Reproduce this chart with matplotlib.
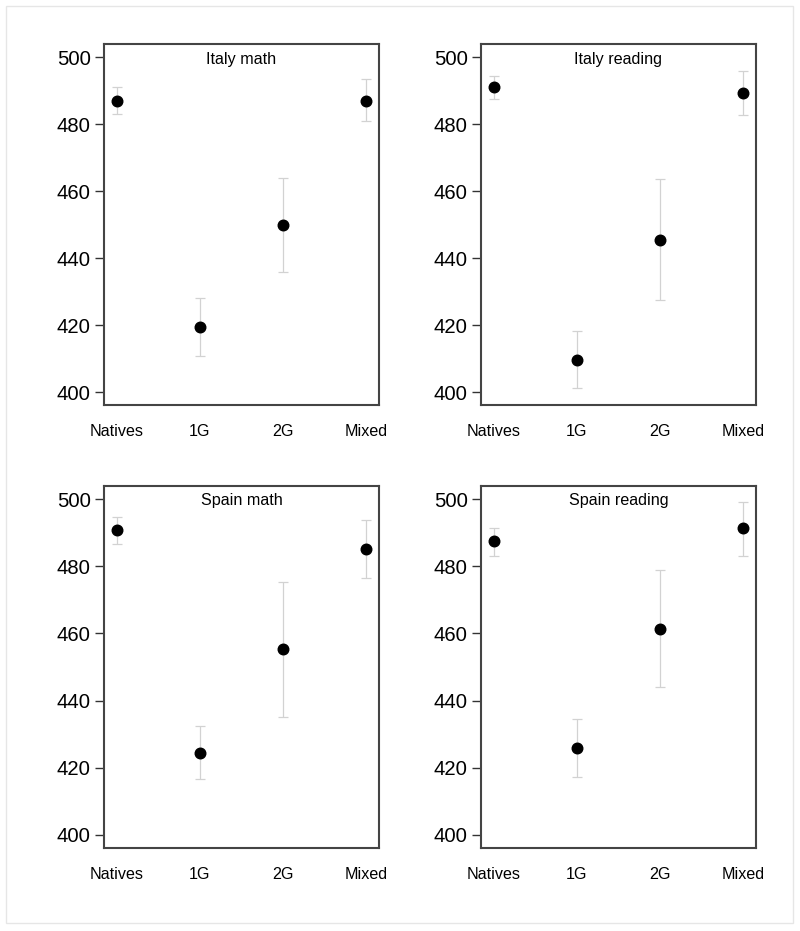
import matplotlib
matplotlib.use("Agg")
import matplotlib.pyplot as plt
from matplotlib.patches import Rectangle

plt.rcParams['font.family'] = ['Liberation Sans', 'DejaVu Sans']

categories = ["Natives", "1G", "2G", "Mixed"]
panel_titles = ["Italy math", "Italy reading", "Spain math", "Spain reading"]

italy_math = [486.9, 419.6, 449.9, 487.1]
italy_math_lo = [483.0, 410.8, 435.9, 481.0]
italy_math_hi = [491.1, 428.1, 463.9, 493.4]

italy_reading = [491.1, 409.6, 445.5, 489.4]
italy_reading_lo = [487.7, 401.3, 427.5, 482.8]
italy_reading_hi = [494.3, 418.2, 463.8, 496.0]

spain_math = [490.8, 424.5, 455.3, 485.1]
spain_math_lo = [486.5, 416.7, 435.2, 476.6]
spain_math_hi = [494.8, 432.5, 475.4, 493.7]

spain_reading = [487.4, 426.0, 461.2, 491.3]
spain_reading_lo = [483.1, 417.4, 444.0, 483.0]
spain_reading_hi = [491.5, 434.6, 478.8, 499.2]

yticks = [400, 420, 440, 460, 480, 500]

panels = [
    (italy_math, italy_math_lo, italy_math_hi),
    (italy_reading, italy_reading_lo, italy_reading_hi),
    (spain_math, spain_math_lo, spain_math_hi),
    (spain_reading, spain_reading_lo, spain_reading_hi),
]

W, H = 800, 931
fig = plt.figure(figsize=(W / 100, H / 100), dpi=100)

# outer light border
fig.patches.append(Rectangle((6 / W, 1 - 923 / H), 787 / W, 917 / H,
                             transform=fig.transFigure, fill=False,
                             edgecolor='#e6e6e6', linewidth=1.0))

lefts = [104, 481]
rights = [379, 755.7]
tops = [44, 485.7]
bottoms = [405, 847.7]

for i, (vals, lo, hi) in enumerate(panels):
    r, c = divmod(i, 2)
    l = lefts[c] / W
    w = (rights[c] - lefts[c]) / W
    b = 1 - bottoms[r] / H
    h = (bottoms[r] - tops[r]) / H
    ax = fig.add_axes([l, b, w, h])
    x = list(range(len(categories)))
    yerr = [[v - a for v, a in zip(vals, lo)], [bb - v for v, bb in zip(vals, hi)]]
    ax.errorbar(x, vals, yerr=yerr, fmt='none', ecolor='#d2d2d2',
                elinewidth=0.9, capsize=3.8, capthick=0.9, zorder=2)
    ax.plot(x, vals, 'o', color='black', markersize=7.6, zorder=3)
    ax.set_xlim(-0.155, 3.155)
    ax.set_ylim(396.2, 504.0)
    ax.set_yticks(yticks)
    ax.set_yticklabels([str(t) for t in yticks], fontsize=14.6)
    ax.set_xticks(x)
    ax.set_xticklabels(categories, fontsize=11.6)
    ax.tick_params(axis='x', length=0, pad=14)
    ax.tick_params(axis='y', length=6.5, width=1.0, pad=3, color='#333333')
    for s in ax.spines.values():
        s.set_color('#444444')
        s.set_linewidth(1.5)
    ax.text(0.5, 0.958, panel_titles[i], transform=ax.transAxes,
            ha='center', va='center', fontsize=11.6)

fig.savefig('out.png', dpi=100)
